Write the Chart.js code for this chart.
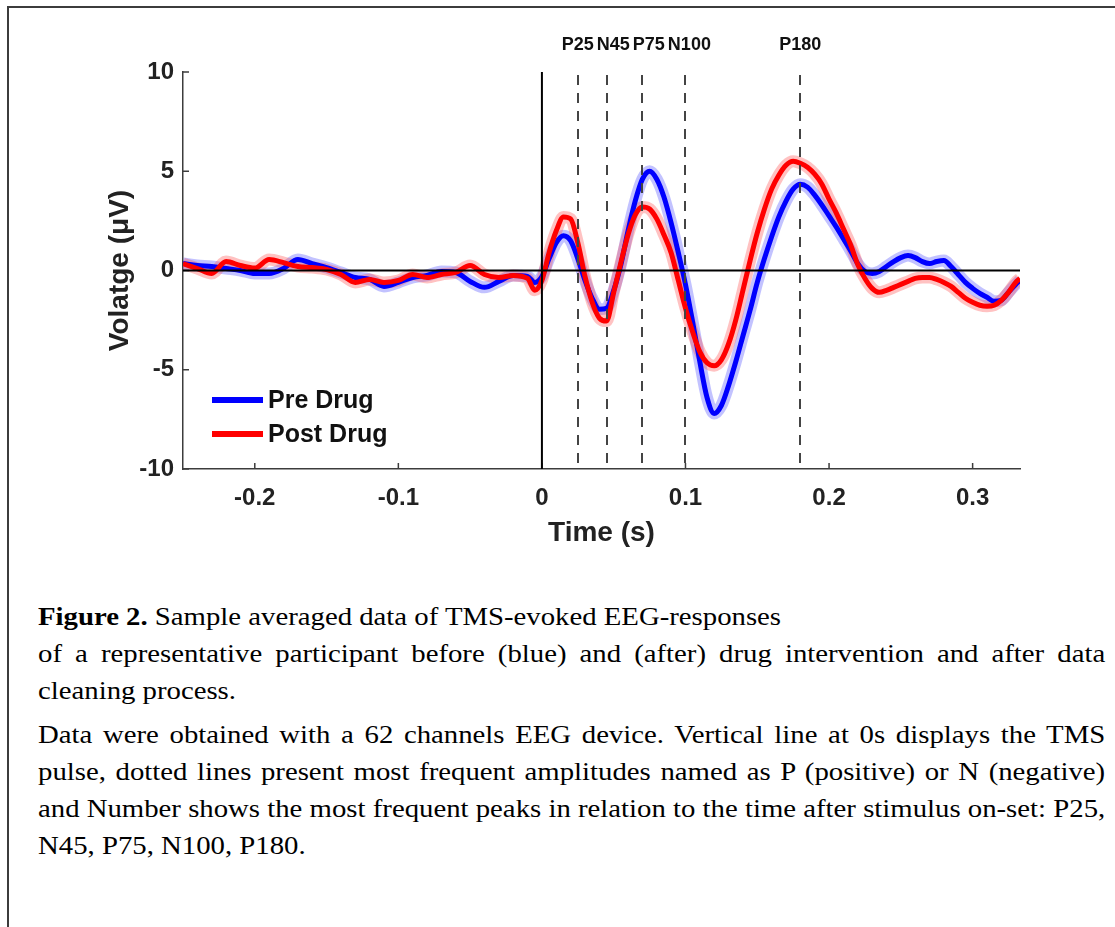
<!DOCTYPE html>
<html>
<head>
<meta charset="utf-8">
<script src="https://cdn.jsdelivr.net/npm/chart.js@4.4.1/dist/chart.umd.min.js"></script>
<style>
  html, body { margin: 0; padding: 0; background: #fff; }
  body { width: 1115px; height: 927px; position: relative; overflow: hidden; }
  #frame { position: absolute; left: 7px; top: 6px; width: 1120px; height: 940px;
           border-top: 2px solid #3c3c3c; border-left: 2px solid #3c3c3c; }
  #wrap { position: absolute; left: 0; top: 0; width: 1115px; height: 570px; }
  #caption { position: absolute; left: 38px; top: 598px; width: 928px;
             transform: scaleX(1.15); transform-origin: 0 0;
             font-family: "Liberation Serif", "Times New Roman", serif; font-size: 25px;
             line-height: 37px; color: #000; }
  #caption div { white-space: nowrap; }
  #caption .j { text-align: justify; text-align-last: justify; }
  #caption .gap { margin-top: 7px; }
</style>
</head>
<body>
<div id="frame"></div>
<div id="wrap"><canvas id="myChart" width="1115" height="570"></canvas></div>
<div id="caption">
  <div><b>Figure 2.</b> Sample averaged data of TMS-evoked EEG-responses</div>
  <div class="j">of a representative participant before (blue) and (after) drug intervention and after data</div>
  <div>cleaning process.</div>
  <div class="j gap">Data were obtained with a 62 channels EEG device. Vertical line at 0s displays the TMS</div>
  <div class="j">pulse, dotted lines present most frequent amplitudes named as P (positive) or N (negative)</div>
  <div class="j">and Number shows the most frequent peaks in relation to the time after stimulus on-set: P25,</div>
  <div>N45, P75, N100, P180.</div>
</div>
<script>
// tiempo (s)
var time = [
  -0.25, -0.24, -0.23, -0.22, -0.21, -0.20, -0.19, -0.18, -0.17, -0.16,
  -0.15, -0.14, -0.13, -0.12, -0.11, -0.10, -0.09, -0.08, -0.07, -0.06,
  -0.05, -0.04, -0.03, -0.02, -0.01, -0.005,
  0, 0.005, 0.01, 0.015, 0.02, 0.025, 0.03, 0.035, 0.04, 0.045,
  0.05, 0.055, 0.06, 0.065, 0.07, 0.075, 0.08, 0.085, 0.09, 0.095,
  0.10, 0.105, 0.11, 0.115, 0.12, 0.125, 0.13, 0.135, 0.14, 0.145,
  0.15, 0.155, 0.16, 0.165, 0.17, 0.175, 0.18, 0.185, 0.19, 0.195,
  0.20, 0.205, 0.21, 0.215, 0.22, 0.225, 0.23, 0.235, 0.24, 0.245,
  0.25, 0.255, 0.26, 0.265, 0.27, 0.275, 0.28, 0.285, 0.29, 0.295,
  0.30, 0.305, 0.31, 0.315, 0.32, 0.325, 0.33, 0.333
];

// Pre Drug (azul)
var preDrug = [
  0.35, 0.25, 0.2, 0.1, 0.0, -0.15, -0.15, 0.1, 0.55, 0.35,
  0.15, -0.1, -0.35, -0.45, -0.8, -0.6, -0.35, -0.25, -0.05, -0.1,
  -0.55, -0.85, -0.55, -0.25, -0.3, -0.6,
  -0.3, 0.6, 1.4, 1.75, 1.5, 0.6, -0.5, -1.4, -1.95, -1.9,
  -1.0, 0.3, 2.0, 3.5, 4.6, 5.0, 4.6, 3.7, 2.4, 0.9,
  -0.7, -2.6, -4.6, -6.4, -7.2, -6.8, -5.8, -4.6, -3.3, -2.0,
  -0.6, 0.6, 1.7, 2.7, 3.5, 4.1, 4.35, 4.2, 3.8, 3.3,
  2.75, 2.2, 1.6, 1.0, 0.35, -0.05, -0.15, -0.05, 0.2, 0.45,
  0.65, 0.75, 0.65, 0.45, 0.35, 0.45, 0.5, 0.2, -0.2, -0.6,
  -0.9, -1.15, -1.35, -1.55, -1.5, -1.1, -0.7, -0.5
];

// Post Drug (rojo)
var postDrug = [
  0.35, 0.1, -0.15, 0.45, 0.25, 0.12, 0.55, 0.4, 0.2, 0.15,
  0.05, -0.2, -0.6, -0.45, -0.6, -0.5, -0.2, -0.35, -0.2, -0.1,
  0.25, -0.2, -0.35, -0.25, -0.4, -1.0,
  -0.5, 0.9, 2.0, 2.7, 2.6, 1.4, -0.3, -1.6, -2.4, -2.55,
  -1.1, 0.4, 1.8, 2.8, 3.2, 3.1, 2.6, 1.8, 0.9, -0.5,
  -1.9, -3.1, -4.1, -4.65, -4.8, -4.5, -3.7, -2.5, -1.0, 0.5,
  1.9, 3.1, 4.1, 4.8, 5.3, 5.5, 5.4, 5.2, 4.85, 4.35,
  3.6, 2.9, 2.1, 1.3, 0.3, -0.4, -0.9, -1.1, -1.0, -0.85,
  -0.7, -0.55, -0.4, -0.35, -0.35, -0.45, -0.6, -0.8, -1.1, -1.4,
  -1.6, -1.75, -1.8, -1.75, -1.5, -1.1, -0.6, -0.4
];

// picos (s) y sus nombres
var peakTimes = [0.025, 0.045, 0.07, 0.1, 0.18];
var peakLabels = ['P25', 'N45', 'P75', 'N100', 'P180'];

// marcas de los ejes
var xTicks = [-0.2, -0.1, 0, 0.1, 0.2, 0.3];
var yTicks = [-10, -5, 0, 5, 10];

var FONT = '"Liberation Sans", Arial, sans-serif';

function pts(values) {
  return time.map(function (t, i) { return { x: t, y: values[i] }; });
}

// linea gruesa translucida para la banda de error
function halo(values, color, ord) {
  return {
    label: '_halo', data: pts(values), borderColor: color, borderWidth: 12,
    pointRadius: 0, cubicInterpolationMode: 'monotone', order: ord, fill: false
  };
}

var ctx = document.getElementById('myChart').getContext('2d');

// lineas de referencia, etiquetas de picos y leyenda
var extras = {
  id: 'extras',
  afterDatasetsDraw: function (chart) {
    var c = chart.ctx, xs = chart.scales.x, ys = chart.scales.y, a = chart.chartArea;
    c.save();
    // marcas hacia dentro
    c.strokeStyle = '#3c3c3c';
    c.lineWidth = 1.5;
    yTicks.forEach(function (v) {
      var y = ys.getPixelForValue(v);
      c.beginPath(); c.moveTo(a.left, y); c.lineTo(a.left + 6, y); c.stroke();
    });
    xTicks.forEach(function (v) {
      var x = xs.getPixelForValue(v);
      c.beginPath(); c.moveTo(x, a.bottom); c.lineTo(x, a.bottom - 6); c.stroke();
    });
    // lineas discontinuas de picos
    c.strokeStyle = '#444';
    c.lineWidth = 2;
    c.setLineDash([10, 8]);
    peakTimes.forEach(function (t) {
      var x = Math.round(xs.getPixelForValue(t));
      c.beginPath(); c.moveTo(x, a.top + 3); c.lineTo(x, a.bottom); c.stroke();
    });
    c.setLineDash([]);
    // cero
    c.strokeStyle = '#000';
    c.lineWidth = 2;
    var y0 = ys.getPixelForValue(0), x0 = xs.getPixelForValue(0);
    c.beginPath(); c.moveTo(a.left, y0); c.lineTo(a.right, y0); c.stroke();
    c.beginPath(); c.moveTo(x0, a.top); c.lineTo(x0, a.bottom); c.stroke();
    // etiquetas de picos
    c.fillStyle = '#111';
    c.font = 'bold 18px ' + FONT;
    c.textAlign = 'center';
    c.textBaseline = 'middle';
    var prevRight = -Infinity;
    peakTimes.forEach(function (t, i) {
      var w = c.measureText(peakLabels[i]).width;
      var cx = xs.getPixelForValue(t);
      if (cx - w / 2 < prevRight + 3) cx = prevRight + 3 + w / 2;
      c.fillText(peakLabels[i], cx, 45);
      prevRight = cx + w / 2;
    });
    // leyenda
    var items = chart.data.datasets.filter(function (d) { return d.label !== '_halo'; });
    c.font = 'bold 25px ' + FONT;
    c.textAlign = 'left';
    items.forEach(function (d, i) {
      var y = 400 + i * 34;
      c.strokeStyle = d.borderColor;
      c.lineWidth = 6;
      c.beginPath(); c.moveTo(a.left + 29, y); c.lineTo(a.left + 80, y); c.stroke();
      c.fillStyle = '#111';
      c.fillText(d.label, a.left + 85, y + 1);
    });
    c.restore();
  }
};

var myChart = new Chart(ctx, {
  type: 'line',
  data: {
    datasets: [
      { label: 'Pre Drug', data: pts(preDrug), borderColor: '#0000ff', borderWidth: 5,
        pointRadius: 0, cubicInterpolationMode: 'monotone', order: 1 },
      { label: 'Post Drug', data: pts(postDrug), borderColor: '#ff0000', borderWidth: 5,
        pointRadius: 0, cubicInterpolationMode: 'monotone', order: 0 },
      halo(preDrug, 'rgba(80, 80, 255, 0.35)', 3),
      halo(postDrug, 'rgba(255, 80, 80, 0.35)', 2)
    ]
  },
  options: {
    responsive: false,
    animation: false,
    events: [],
    layout: { padding: { left: 0, top: 72, right: 95, bottom: 0 } },
    plugins: { legend: { display: false }, tooltip: { enabled: false } },
    scales: {
      x: {
        type: 'linear', min: -0.25, max: 0.333,
        afterBuildTicks: function (s) { s.ticks = xTicks.map(function (v) { return { value: v }; }); },
        afterFit: function (s) { s.height = 101; },
        grid: { display: false, drawTicks: false },
        border: { display: true, color: '#3c3c3c', width: 1.5 },
        ticks: { color: '#222', padding: 15, font: { family: FONT, size: 24, weight: 'bold' },
                 callback: function (v) { return String(v); } },
        title: { display: true, text: 'Time (s)', color: '#222',
                 font: { family: FONT, size: 28, weight: 'bold' }, padding: { top: 0, bottom: 20 } }
      },
      y: {
        min: -10, max: 10,
        afterBuildTicks: function (s) { s.ticks = yTicks.map(function (v) { return { value: v }; }); },
        afterFit: function (s) { s.width = 183; },
        grid: { display: false, drawTicks: false },
        border: { display: true, color: '#3c3c3c', width: 1.5 },
        ticks: { color: '#222', padding: 9, font: { family: FONT, size: 24, weight: 'bold' },
                 callback: function (v) { return String(v); } },
        title: { display: true, text: 'Volatge (μV)', color: '#222',
                 font: { family: FONT, size: 28, weight: 'bold' }, padding: { top: 103, bottom: 0 } }
      }
    }
  },
  plugins: [extras]
});
</script>
</body>
</html>
